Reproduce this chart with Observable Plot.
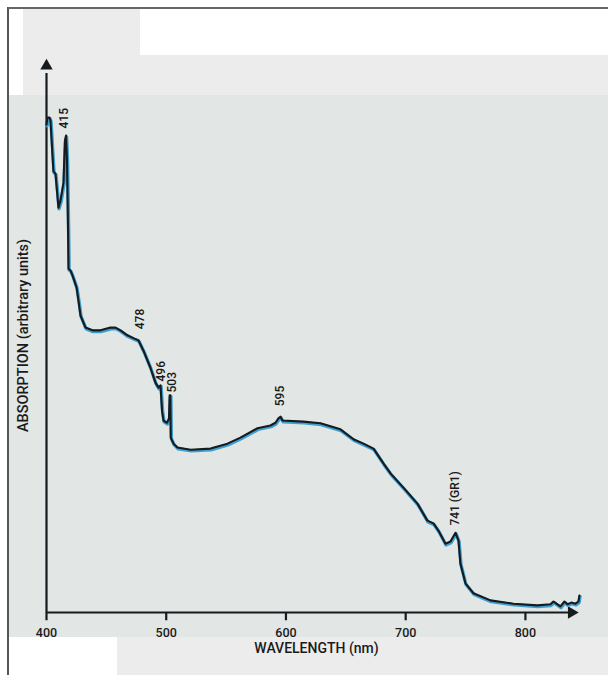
<!DOCTYPE html>
<html>
<head>
<meta charset="utf-8">
<script src="https://cdn.jsdelivr.net/npm/d3@7"></script>
<script src="https://cdn.jsdelivr.net/npm/@observablehq/plot@0.6"></script>
<style>
  html, body { margin: 0; padding: 0; background: #fff; }
  #page { position: relative; width: 608px; height: 675px; overflow: hidden; background: #fff; }
  .bg { position: absolute; }
  #chart { position: absolute; left: 0; top: 0; }
</style>
</head>
<body>
<div id="page">
  <div class="bg" style="left:23px;top:9px;width:117px;height:86px;background:#ececec"></div>
  <div class="bg" style="left:140px;top:55px;width:468px;height:40px;background:#ececec"></div>
  <div class="bg" style="left:9px;top:95px;width:599px;height:542px;background:#e2e6e4"></div>
  <div class="bg" style="left:117px;top:637px;width:491px;height:38px;background:#ececec"></div>
  <div class="bg" style="left:7px;top:7px;width:2px;height:668px;background:#555"></div>
  <div class="bg" style="left:8px;top:7px;width:600px;height:2px;background:#666"></div>
  <div id="chart"></div>
</div>
<script>
// Absorption spectrum (wavelength in nm, absorption in arbitrary units)
const wavelength = [
  400.0, 400.8, 402.5, 403.3, 405.8, 407.5, 410.0, 411.7, 414.2, 415.4,
  416.3, 417.1, 418.0, 418.4, 420.0, 421.7, 425.1, 426.7, 428.4, 432.6,
  438.4, 445.1, 453.4, 457.6, 461.8, 467.6, 473.5, 476.8, 481.0, 486.8,
  491.0, 493.5, 495.2, 496.5, 497.7, 500.6, 502.3, 502.9, 503.4, 503.8,
  506.1, 509.4, 520.3, 537.0, 551.1, 562.0, 576.2, 587.0, 591.2, 593.7,
  595.4, 597.1, 614.6, 628.8, 645.5, 656.4, 664.7, 673.1, 681.4, 687.3,
  698.1, 709.8, 718.1, 723.2, 727.3, 733.2, 737.4, 741.6, 744.1, 745.7,
  749.9, 756.6, 770.8, 790.0, 810.0, 820.9, 823.4, 825.9, 829.2, 832.6,
  835.1, 838.4, 841.8, 844.3, 845.1
];
const absorption = [
  88.7, 90.0, 90.0, 89.5, 80.2, 79.8, 73.6, 74.9, 78.2, 85.8,
  86.7, 82.2, 69.5, 62.5, 62.2, 61.3, 59.1, 56.7, 54.0, 51.8,
  51.3, 51.3, 51.8, 51.8, 51.3, 50.4, 49.8, 49.5, 47.6, 44.5,
  41.8, 40.9, 41.3, 36.7, 34.9, 34.5, 35.3, 39.5, 39.5, 31.8,
  30.7, 30.0, 29.6, 29.8, 30.7, 31.8, 33.5, 34.0, 34.5, 35.3,
  35.6, 34.9, 34.7, 34.4, 33.3, 31.5, 30.7, 29.8, 27.1, 25.3,
  22.7, 19.8, 16.7, 16.2, 14.9, 12.5, 12.9, 14.5, 13.1, 8.9,
  5.3, 3.5, 2.2, 1.6, 1.3, 1.5, 2.0, 1.6, 1.1, 2.0,
  1.5, 1.8, 1.6, 2.0, 3.1
];

// Peak annotations
const peakText = ["415", "478", "496", "503", "595", "741 (GR1)"];
const peakNm = [415, 478.5, 496, 505, 595, 741];
const peakLabelY = [88.0, 51.5, 42.0, 40.0, 37.5, 15.8];

// Axis ticks
const xTicks = [400, 500, 600, 700, 800];
const xDomain = [400, 846];
const yDomain = [0, 100];
const xLabel = "WAVELENGTH (nm)";
const yLabel = "ABSORPTION (arbitrary units)";

const spectrum = wavelength.map((w, i) => ({w, a: absorption[i]}));
const peaks = peakText.map((t, i) => ({t, x: peakNm[i], y: peakLabelY[i]}));

const ink = "#151b1f";
const font = "Roboto, 'Liberation Sans', Arial, Helvetica, sans-serif";

const chart = Plot.plot({
  width: 608,
  height: 675,
  marginLeft: 46,
  marginRight: 28,
  marginTop: 62,
  marginBottom: 63,
  style: {background: "transparent", fontFamily: font, overflow: "visible"},
  x: {domain: xDomain, axis: null},
  y: {domain: yDomain, axis: null},
  marks: [
    // axes
    Plot.ruleX([xDomain[0]], {y1: yDomain[0], y2: 98, stroke: ink, strokeWidth: 2.2}),
    Plot.dot([xDomain[0]], {x: d => d, y: () => 99.4, symbol: "triangle", r: 4.6, fill: ink, stroke: "none"}),
    Plot.ruleY([yDomain[0]], {x1: xDomain[0], x2: 838, stroke: ink, strokeWidth: 2.2}),
    Plot.dot([yDomain[0]], {x: () => 838.5, y: d => d, symbol: "triangle", r: 4.6, rotate: 90, fill: ink, stroke: "none"}),
    Plot.ruleX(xTicks, {x: d => d, y1: 0, y2: -1.5, stroke: ink, strokeWidth: 2.2}),
    Plot.text(xTicks, {x: d => d, y: () => 0, dy: 20, text: d => String(d), fontSize: 12.5, fontWeight: 500, fill: "#1a1a1a"}),
    Plot.text([xLabel], {frameAnchor: "bottom", dx: 3, dy: 40, text: d => d, fontSize: 14, fontWeight: 500, fill: "#1a1a1a"}),
    Plot.text([yLabel], {frameAnchor: "left", rotate: -90, textAnchor: "middle", dx: -23, dy: -2, text: d => d, fontSize: 14.5, fontWeight: 500, fill: "#1a1a1a"}),
    // spectrum: blue misregistered print layer + dark ink
    Plot.line(spectrum, {x: "w", y: "a", stroke: "#3f9fcf", strokeWidth: 3.4, dx: 0.6, dy: 1.2, strokeLinejoin: "round"}),
    Plot.line(spectrum, {x: "w", y: "a", stroke: ink, strokeWidth: 2.1, strokeLinejoin: "round"}),
    // peak labels
    Plot.text(peaks, {x: "x", y: "y", text: "t", rotate: -90, textAnchor: "start", fontSize: 12, fontWeight: 500, fill: "#1a1a1a"})
  ]
});
document.getElementById("chart").appendChild(chart);
</script>
</body>
</html>
